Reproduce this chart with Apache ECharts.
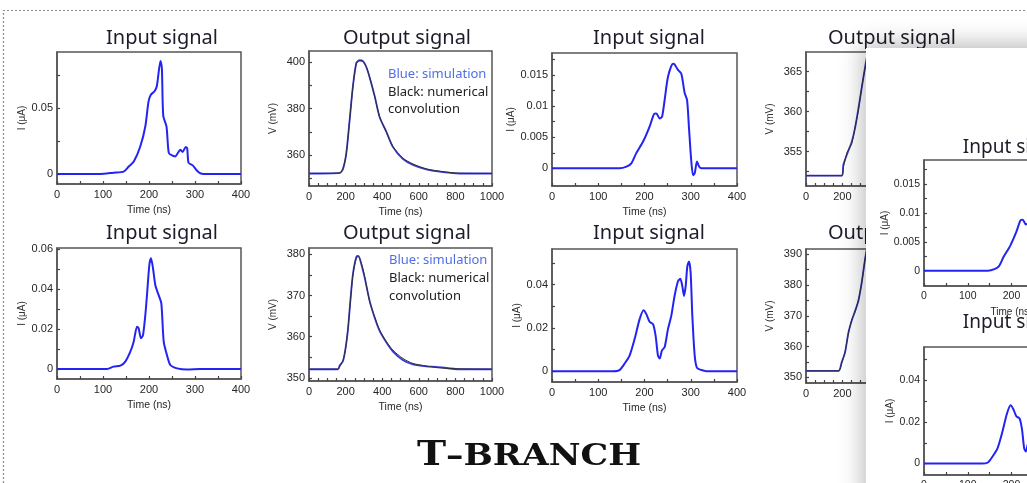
<!DOCTYPE html>
<html>
<head>
<meta charset="utf-8">
<script src="https://cdn.jsdelivr.net/npm/echarts@6/dist/echarts.min.js"></script>
<style>
html,body{margin:0;padding:0;background:#fff;}
#chart{width:1027px;height:483px;}
</style>
</head>
<body>
<div id="chart"></div>
<script>
// ---------------- DATA ----------------
// Panel A: top-left input signal (I in µA vs time ns)
const inA_t = [0, 94, 123, 145, 156, 167, 181, 192, 199, 204, 212, 217, 225, 228, 231, 238, 243, 250, 257, 262, 268, 273, 280, 283, 286, 295, 303, 311, 319, 400];
const inA_v = [0, 0, 0.001, 0.0018, 0.0056, 0.0094, 0.0208, 0.036, 0.055, 0.060, 0.0627, 0.0665, 0.0855, 0.080, 0.044, 0.036, 0.016, 0.014, 0.0133, 0.0155, 0.0183, 0.0167, 0.0205, 0.0195, 0.0085, 0.0065, 0.003, 0.0006, 0, 0];
// Panel B: top output signal (V in mV)
const outB_t = [0, 168, 186, 204, 222, 240, 259, 277, 295, 313, 331, 359, 386, 423, 459, 514, 568, 641, 732, 823, 1000];
const outB_conv = [352, 352.2, 354.2, 360.7, 375.1, 389.5, 399.6, 400.7, 400.3, 398.1, 393.8, 385.2, 376.5, 369.8, 363.6, 358.6, 356.1, 354.0, 352.8, 352.1, 352];
const outB_sim = [352, 352.3, 354.0, 360.9, 375.0, 389.7, 399.8, 400.9, 400.5, 398.0, 393.6, 385.4, 376.3, 370.0, 363.4, 358.2, 355.7, 353.8, 352.6, 352.0, 352];
// Panel C: top input signal, third column
const inC_t = [0, 146, 161, 171.5, 182, 197, 211, 220.5, 225.6, 233, 238, 243.6, 250.8, 261.6, 265, 272.4, 279.6, 286.8, 292, 296, 301, 305, 308.5, 313.5, 318, 323, 400];
const inC_v = [0, 0, 0.00027, 0.0008, 0.0024, 0.0043, 0.0067, 0.0087, 0.0088, 0.0080, 0.0083, 0.0110, 0.0147, 0.0168, 0.0167, 0.0158, 0.0152, 0.0121, 0.0110, 0.0067, 0.0013, -0.0011, -0.0008, 0.0011, 0.0003, 0, 0];
// Panel D: top output signal, fourth column (partly hidden)
const outD_t = [0, 196, 205.5, 227.5, 251, 270, 288, 306.4, 330, 336];
const outD_conv = [352, 352, 353.1, 355, 356, 358.1, 360.2, 363.1, 366.1, 366.8];
const outD_sim = [352, 352, 353.4, 354.8, 356.2, 358.0, 360.4, 363.0, 366.3, 366.9];
// Panel E: bottom-left input signal
const inE_t = [0, 109, 123, 138, 148.5, 159.4, 166.7, 174, 177.5, 182.6, 187, 192, 195.6, 200.7, 204.3, 208.7, 213.8, 221, 226.8, 232, 239, 246.4, 261, 282.6, 311.6, 400];
const inE_v = [0, 0, 0.0012, 0.0017, 0.0037, 0.0087, 0.0137, 0.0212, 0.0204, 0.0154, 0.017, 0.027, 0.037, 0.052, 0.0555, 0.0505, 0.042, 0.037, 0.0329, 0.0137, 0.007, 0.002, 0.0003, -0.0003, 0, 0];
// Panel F: bottom output signal
const outF_t = [0, 158, 167.6, 186, 200, 213, 226, 240, 259, 270, 286, 304, 331.5, 359, 386, 423, 459, 514, 568, 641, 696, 823, 1000];
const outF_conv = [352.1, 352.1, 352.7, 354.3, 357.1, 362.0, 368.5, 375.0, 379.2, 379.4, 377.8, 374.6, 368.5, 364.8, 361.6, 358.8, 356.7, 354.7, 353.5, 352.9, 352.5, 352.2, 352.1];
const outF_sim = [352.1, 352.1, 353.0, 354.1, 357.3, 361.8, 368.7, 375.2, 379.4, 379.6, 377.6, 374.4, 368.7, 364.6, 361.4, 358.6, 356.4, 354.3, 353.3, 352.8, 352.7, 352.1, 352.1];
// Panel G: bottom input signal, third column
const inG_t = [0, 132, 146, 157, 168, 178.7, 189.5, 198, 204, 211, 218.4, 224, 229, 232.8, 237.8, 243.6, 250.8, 258, 265, 272.4, 277.5, 281.8, 285.4, 289, 292.6, 296.2, 299.8, 303.4, 308.5, 313.5, 323, 333.7, 400];
const inG_v = [0, 0, 0.0005, 0.0035, 0.0073, 0.0149, 0.024, 0.0281, 0.0263, 0.0228, 0.0217, 0.0164, 0.0073, 0.0058, 0.0096, 0.0111, 0.0195, 0.0256, 0.0347, 0.0415, 0.0426, 0.0392, 0.0347, 0.0392, 0.0484, 0.0506, 0.0453, 0.0256, 0.0073, 0.0015, 0.0005, 0, 0];
// Panel H: bottom output signal, fourth column (partly hidden)
const outH_t = [0, 178, 196, 214.7, 233, 251, 270, 288, 306, 325, 335];
const outH_conv = [352.06, 352.06, 354.6, 358.3, 364.3, 368.6, 371.4, 375.1, 380.6, 388.7, 392];
const outH_sim = [352.06, 352.06, 354.9, 358.1, 364.5, 368.4, 371.6, 374.9, 380.8, 388.5, 392];

// Tick values / labels
const xTicksIn = [0, 50, 100, 150, 200, 250, 300, 350, 400];
const xLabelsIn = [0, 100, 200, 300, 400];
const xTicksOut = [0, 50, 100, 150, 200, 250, 300, 350, 400, 450, 500, 550, 600, 650, 700, 750, 800, 850, 900, 950, 1000];
const xLabelsOut = [0, 200, 400, 600, 800, 1000];
const yTicksA = [0, 0.025, 0.05, 0.075];
const yLabelsA = [0, 0.05];
const yTicksB = [350, 360, 370, 380, 390, 400];
const yLabelsB = [360, 380, 400];
const yTicksC = [0, 0.0025, 0.005, 0.0075, 0.01, 0.0125, 0.015, 0.0175];
const yLabelsC = [0, 0.005, 0.01, 0.015];
const yTicksD = [352.5, 355, 357.5, 360, 362.5, 365];
const yLabelsD = [355, 360, 365];
const yTicksE = [0, 0.01, 0.02, 0.03, 0.04, 0.05, 0.06];
const yLabelsE = [0, 0.02, 0.04, 0.06];
const yTicksF = [350, 355, 360, 365, 370, 375, 380];
const yLabelsF = [350, 360, 370, 380];
const yTicksG = [0, 0.01, 0.02, 0.03, 0.04, 0.05];
const yLabelsG = [0, 0.02, 0.04];
const yTicksH = [350, 355, 360, 365, 370, 375, 380, 385, 390];
const yLabelsH = [350, 360, 370, 380, 390];

const titleIn = 'Input signal';
const titleOut = 'Output signal';
const legendLines = ['Blue: simulation', 'Black: numerical', 'convolution'];
const nameI = 'I (μA)';
const nameV = 'V (mV)';
const nameT = 'Time (ns)';
const footer = ['T', '–BRANCH'];

// ---------------- BUILD ----------------
const zip = (t, v) => t.map((x, i) => [x, v[i]]);
const BLUE_IN = '#2424f2';
const BLUE_SIM = '#3a3ad8';
const BLACK = '#303030';
const option = { animation: false, backgroundColor: '#fff', grid: [], xAxis: [], yAxis: [], series: [], graphic: [] };
const plain = v => String(v);

function panel(p) {
  const gi = option.grid.length;
  const z = p.z || 0;
  const fs = p.fs || 11;
  option.grid.push({ left: p.left, top: p.top, width: p.width, height: p.height, show: true,
    outerBoundsMode: 'none', containLabel: false,
    borderColor: '#555', borderWidth: 1.5, backgroundColor: 'rgba(0,0,0,0)', z: z });
  const axisCommon = {
    axisLine: { show: true, onZero: false, lineStyle: { color: '#555', width: 1.5 } },
    splitLine: { show: false },
    nameLocation: 'middle',
    z: z + 1
  };
  option.xAxis.push(Object.assign({}, axisCommon, {
    type: 'value', gridIndex: gi, min: p.xmin, max: p.xmax,
    axisTick: { show: true, inside: true, length: 3, customValues: p.xTicks, lineStyle: { color: '#444', width: 1.2 } },
    axisLabel: { customValues: p.xLabels, formatter: plain, fontSize: fs, color: '#262626', fontFamily: 'Liberation Sans', margin: 5 },
    name: nameT, nameGap: 21,
    nameTextStyle: { fontSize: fs - 0.5, color: '#262626', fontFamily: 'Liberation Sans' }
  }));
  option.yAxis.push(Object.assign({}, axisCommon, {
    type: 'value', gridIndex: gi, min: p.ymin, max: p.ymax,
    axisTick: { show: true, inside: true, length: 3, customValues: p.yTicks, lineStyle: { color: '#444', width: 1.2 } },
    axisLabel: { customValues: p.yLabels, formatter: plain, fontSize: fs, color: '#262626', fontFamily: 'Liberation Sans', margin: 4 },
    name: p.yName, nameGap: p.nameGap,
    nameTextStyle: { fontSize: 10, color: '#333', fontFamily: 'Liberation Sans' }
  }));
  p.lines.forEach(l => {
    option.series.push({ type: 'line', xAxisIndex: gi, yAxisIndex: gi, data: l.data,
      showSymbol: false, symbol: 'none', smooth: 0.25, clip: true, z: z + 2,
      lineStyle: { color: l.color, width: l.width } });
  });
}

function txt(x, y, text, font, color, z, align) {
  option.graphic.push({ type: 'text', x: x, y: y, z: z || 0,
    style: { text: text, font: font, fill: color, textAlign: align || 'center', textVerticalAlign: 'middle' } });
}

// Row 1
panel({ left: 57, top: 52, width: 184, height: 132, xmin: 0, xmax: 400, ymin: -0.0076, ymax: 0.0924,
  xTicks: xTicksIn, xLabels: xLabelsIn, yTicks: yTicksA, yLabels: yLabelsA, yName: nameI, nameGap: 30,
  lines: [{ data: zip(inA_t, inA_v), color: BLUE_IN, width: 2 }] });
panel({ left: 309, top: 51, width: 183, height: 135, xmin: 0, xmax: 1000, ymin: 346.6, ymax: 404.9,
  xTicks: xTicksOut, xLabels: xLabelsOut, yTicks: yTicksB, yLabels: yLabelsB, yName: nameV, nameGap: 31,
  lines: [{ data: zip(outB_t, outB_sim), color: BLUE_SIM, width: 1.8 }, { data: zip(outB_t, outB_conv), color: BLACK, width: 1 }] });
panel({ left: 552, top: 53, width: 185, height: 133, xmin: 0, xmax: 400, ymin: -0.00284, ymax: 0.01852,
  xTicks: xTicksIn, xLabels: xLabelsIn, yTicks: yTicksC, yLabels: yLabelsC, yName: nameI, nameGap: 30,
  lines: [{ data: zip(inC_t, inC_v), color: BLUE_IN, width: 2 }] });
panel({ left: 806, top: 52, width: 182, height: 134, xmin: 0, xmax: 1000, ymin: 350.71, ymax: 367.46,
  xTicks: xTicksOut, xLabels: xLabelsOut, yTicks: yTicksD, yLabels: yLabelsD, yName: nameV, nameGap: 31,
  lines: [{ data: zip(outD_t, outD_sim), color: BLUE_SIM, width: 1.8 }, { data: zip(outD_t, outD_conv), color: BLACK, width: 1 }] });
// Row 2
panel({ left: 57, top: 248, width: 184, height: 131, xmin: 0, xmax: 400, ymin: -0.00501, ymax: 0.06065,
  xTicks: xTicksIn, xLabels: xLabelsIn, yTicks: yTicksE, yLabels: yLabelsE, yName: nameI, nameGap: 30,
  lines: [{ data: zip(inE_t, inE_v), color: BLUE_IN, width: 2 }] });
panel({ left: 309, top: 248, width: 183, height: 133, xmin: 0, xmax: 1000, ymin: 349.25, ymax: 381.53,
  xTicks: xTicksOut, xLabels: xLabelsOut, yTicks: yTicksF, yLabels: yLabelsF, yName: nameV, nameGap: 31,
  lines: [{ data: zip(outF_t, outF_sim), color: BLUE_SIM, width: 1.8 }, { data: zip(outF_t, outF_conv), color: BLACK, width: 1 }] });
panel({ left: 552, top: 249, width: 185, height: 133, xmin: 0, xmax: 400, ymin: -0.00502, ymax: 0.05638,
  xTicks: xTicksIn, xLabels: xLabelsIn, yTicks: yTicksG, yLabels: yLabelsG, yName: nameI, nameGap: 30,
  lines: [{ data: zip(inG_t, inG_v), color: BLUE_IN, width: 2 }] });
panel({ left: 806, top: 249, width: 182, height: 134, xmin: 0, xmax: 1000, ymin: 348.14, ymax: 391.72,
  xTicks: xTicksOut, xLabels: xLabelsOut, yTicks: yTicksH, yLabels: yLabelsH, yName: nameV, nameGap: 31,
  lines: [{ data: zip(outH_t, outH_sim), color: BLUE_SIM, width: 1.8 }, { data: zip(outH_t, outH_conv), color: BLACK, width: 1 }] });

// Overlay (zoomed slide on the right)
option.graphic.push({ type: 'rect', z: 50, shape: { x: 866, y: 48, width: 200, height: 460 },
  style: { fill: '#fff', shadowBlur: 22, shadowColor: 'rgba(0,0,0,0.28)', shadowOffsetX: -3, shadowOffsetY: -4 } });
panel({ left: 924, top: 160, width: 175, height: 126, xmin: 0, xmax: 400, ymin: -0.00265, ymax: 0.01915,
  xTicks: xTicksIn, xLabels: xLabelsIn, yTicks: yTicksC, yLabels: yLabelsC, yName: nameI, nameGap: 29, z: 55, fs: 10.5,
  lines: [{ data: zip(inC_t, inC_v), color: BLUE_IN, width: 2 }] });
panel({ left: 924, top: 347, width: 175, height: 128, xmin: 0, xmax: 400, ymin: -0.00554, ymax: 0.05614,
  xTicks: xTicksIn, xLabels: xLabelsIn, yTicks: yTicksG, yLabels: yLabelsG, yName: nameI, nameGap: 29, z: 55, fs: 10.5,
  lines: [{ data: zip(inG_t, inG_v), color: BLUE_IN, width: 2 }] });

// Titles
const TF = '20px "Noto Sans"';
const TC = '#1c1c2a';
txt(162, 38, titleIn, TF, TC);
txt(407, 38, titleOut, TF, TC);
txt(649, 38, titleIn, TF, TC);
txt(892, 38, titleOut, TF, TC);
txt(162, 233, titleIn, TF, TC);
txt(407, 233, titleOut, TF, TC);
txt(649, 233, titleIn, TF, TC);
txt(892, 233, titleOut, TF, TC);
txt(1016, 148, titleIn, '19px "Noto Sans"', TC, 60);
txt(1016, 323, titleIn, '19px "Noto Sans"', TC, 60);

// Legend texts
const LF = '13px "Noto Sans"';
txt(388, 74, legendLines[0], LF, '#4f6fe6', 5, 'left');
txt(388, 92, legendLines[1], LF, '#222', 5, 'left');
txt(388, 109, legendLines[2], LF, '#222', 5, 'left');
txt(389, 260, legendLines[0], LF, '#4f6fe6', 5, 'left');
txt(389, 278, legendLines[1], LF, '#222', 5, 'left');
txt(389, 296, legendLines[2], LF, '#222', 5, 'left');

// Footer
option.graphic.push({ type: 'text', x: 417, y: 456, z: 5, scaleX: 1.15,
  style: { text: footer[0], font: 'bold 34px "DejaVu Serif"', fill: '#111', textAlign: 'left', textVerticalAlign: 'middle' } });
option.graphic.push({ type: 'text', x: 446, y: 457.5, z: 5, scaleX: 1.16,
  style: { text: footer[1], font: 'bold 30px "DejaVu Serif"', fill: '#111', textAlign: 'left', textVerticalAlign: 'middle' } });

// Dotted slide border
option.graphic.push({ type: 'polyline', z: 1, shape: { points: [[3.5, 483], [3.5, 10.5], [1027, 10.5]] },
  style: { stroke: '#8a8a8a', lineWidth: 1.2, lineDash: [2, 2], fill: null } });

const chart = echarts.init(document.getElementById('chart'), null, { renderer: 'canvas' });
chart.setOption(option);
</script>
</body>
</html>
